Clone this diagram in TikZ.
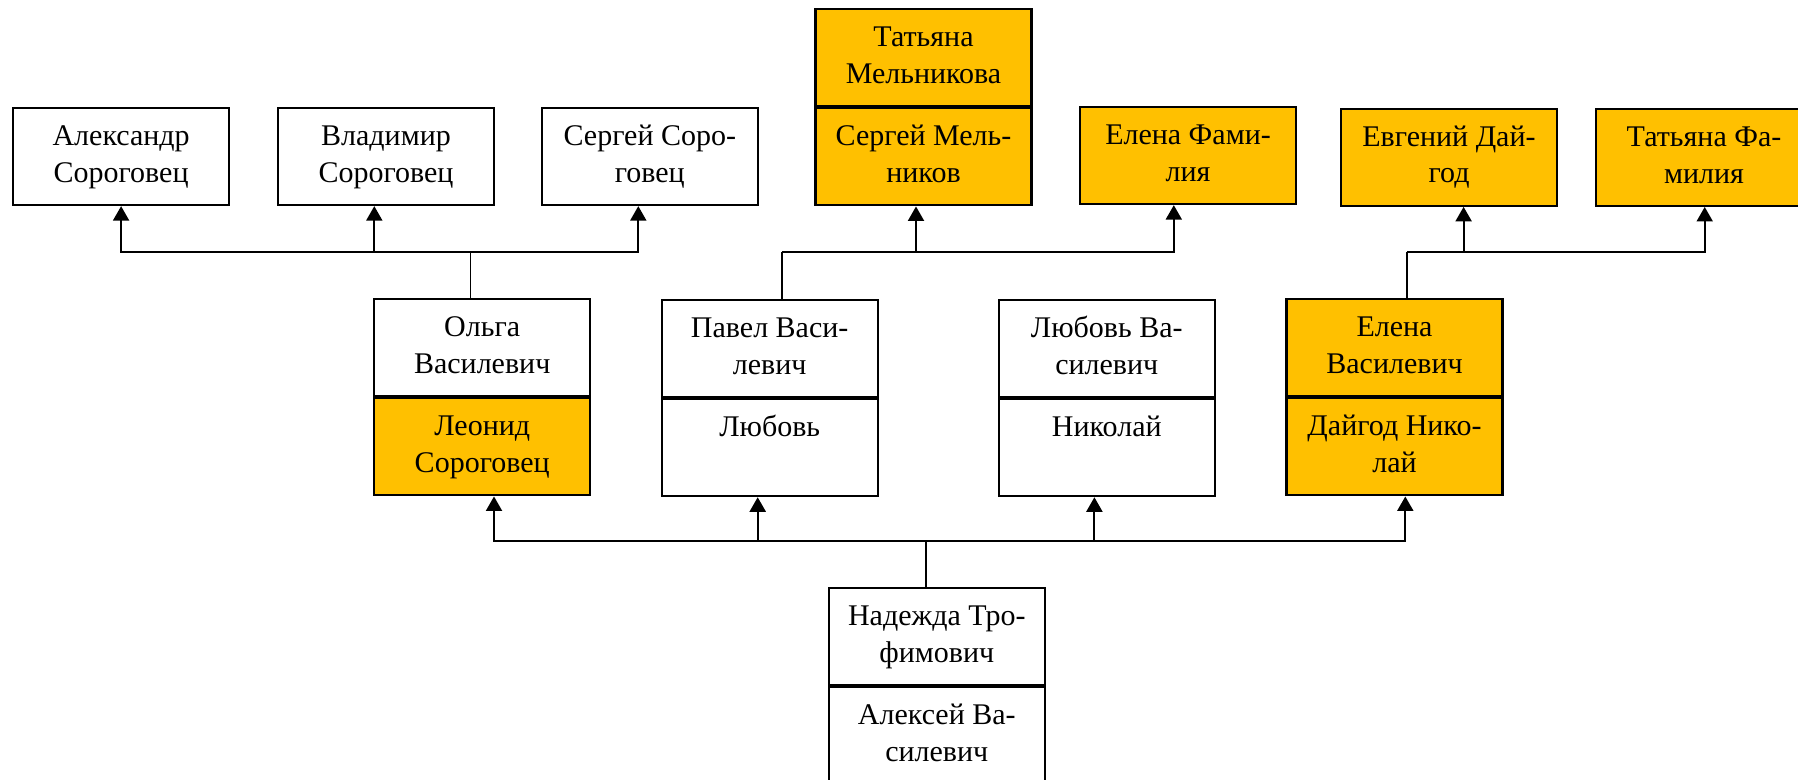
\documentclass[tikz,border=0pt]{standalone}
\usepackage{fontspec}
\setmainfont{Liberation Serif}
\usetikzlibrary{arrows.meta}
\definecolor{gold}{HTML}{FFC000}
\begin{document}
\begin{tikzpicture}[x=1pt,y=-1pt,
  cell/.style={draw, line width=2.3pt, minimum width=216pt, minimum height=97pt, inner sep=0pt,
    align=center, text height=62.4pt, text depth=11pt,
    font=\fontsize{30}{36.7}\selectfont},
  gcell/.style={cell, fill=gold},
  wcell/.style={cell, fill=white},
  tip/.tip={Triangle[length=14.5pt,width=16pt]},
  arr/.style={line width=2pt, -tip},
  arr2/.style={line width=2pt, tip-tip},
  stem/.style={line width=1.3pt}]
\useasboundingbox (0,0) rectangle (1798,779);
\clip (0,0) rectangle (1798,779);

% top row
\node[wcell] (a1) at (121.1,156.5) {Александр\\Сороговец};
\node[wcell] (a2) at (386,156.5) {Владимир\\Сороговец};
\node[wcell] (a3) at (649.8,156.5) {Сергей Соро-\\говец};
\node[gcell] (mb) at (923.5,156.8) {Сергей Мель-\\ников};
\node[gcell, anchor=south] (mt) at (mb.north) {Татьяна\\Мельникова};
\node[gcell] (ef) at (1188,155.5) {Елена Фами-\\лия};
\node[gcell] (ed) at (1449,157.2) {Евгений Дай-\\год};
\node[gcell] (tf) at (1704,157.3) {Татьяна Фа-\\милия};

% middle row
\node[wcell] (ol) at (482.2,347.5) {Ольга\\Василевич};
\node[gcell, anchor=north] (olb) at (ol.south) {Леонид\\Сороговец};
\node[wcell] (pv) at (769.7,348.3) {Павел Васи-\\левич};
\node[wcell, anchor=north] (pvb) at (pv.south) {Любовь\\\mbox{}};
\node[wcell] (lv) at (1106.8,348.3) {Любовь Ва-\\силевич};
\node[wcell, anchor=north] (lvb) at (lv.south) {Николай\\\mbox{}};
\node[gcell] (ev) at (1394.5,347.5) {Елена\\Василевич};
\node[gcell, anchor=north] (evb) at (ev.south) {Дайгод Нико-\\лай};

% bottom
\node[wcell] (nd) at (936.8,636.5) {Надежда Тро-\\фимович};
\node[wcell, anchor=north] (ndb) at (nd.south) {Алексей Ва-\\силевич};

% group 1: Ольга -> her sons
\coordinate (g1) at (470.2,251.7);
\coordinate (g1l) at (121.1,251.7);
\coordinate (g1m) at (374.3,251.7);
\coordinate (g1r) at (638.3,251.7);
\draw[stem] (g1) -- (g1 |- ol.north);
\draw[arr2] (g1l |- a1.south) -- (g1l) -- (g1r) -- (g1r |- a3.south);
\draw[arr] (g1m) -- (g1m |- a2.south);

% group 2: Павел -> parents-in-law
\coordinate (g2) at (781.9,251.7);
\coordinate (g2m) at (916,251.7);
\coordinate (g2r) at (1173.8,251.7);
\draw[stem] (g2) -- (g2 |- pv.north);
\draw[arr] (g2) -- (g2r) -- (g2r |- ef.south);
\draw[arr] (g2m) -- (g2m |- mb.south);

% group 3: Елена -> parents-in-law
\coordinate (g3) at (1406.9,251.7);
\coordinate (g3m) at (1463.6,251.7);
\coordinate (g3r) at (1704.7,251.7);
\draw[stem] (g3) -- (g3 |- ev.north);
\draw[arr] (g3) -- (g3r) -- (g3r |- tf.south);
\draw[arr] (g3m) -- (g3m |- ed.south);

% group 4: Надежда -> children
\coordinate (g4) at (926,540.7);
\coordinate (g4a) at (494,540.7);
\coordinate (g4b) at (757.7,540.7);
\coordinate (g4c) at (1094.4,540.7);
\coordinate (g4d) at (1405.3,540.7);
\draw[stem] (g4) -- (g4 |- nd.north);
\draw[arr2] (g4a |- olb.south) -- (g4a) -- (g4d) -- (g4d |- evb.south);
\draw[arr] (g4b) -- (g4b |- pvb.south);
\draw[arr] (g4c) -- (g4c |- lvb.south);
\end{tikzpicture}
\end{document}
